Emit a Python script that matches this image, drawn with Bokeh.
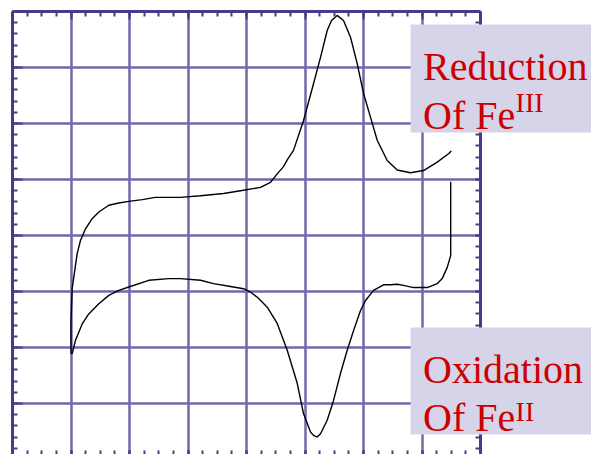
from bokeh.plotting import figure
from bokeh.models import (LinearAxis, SingleIntervalTicker, BoxAnnotation, Label,
                          Range1d, Grid)
from bokeh.embed import file_html
from bokeh.resources import INLINE

# ---- data (grid units: x 0..8, y 0..8) ----
# forward (upper) branch of the voltammogram
fwd_x = [1.0, 1.0, 1.02, 1.065, 1.106, 1.162, 1.248, 1.362, 1.475, 1.646, 1.817,
         1.988, 2.217, 2.444, 2.872, 3.214, 3.607, 3.897, 4.239, 4.41, 4.525,
         4.632, 4.701, 4.803, 4.974, 5.145, 5.265, 5.379, 5.453, 5.55, 5.658,
         5.778, 5.892, 6.0, 6.12, 6.234, 6.405, 6.576, 6.803, 7.026, 7.26,
         7.453, 7.5]
fwd_y = [1.89, 2.48, 3.05, 3.38, 3.68, 3.91, 4.12, 4.30, 4.42, 4.54, 4.58,
         4.61, 4.64, 4.68, 4.68, 4.71, 4.75, 4.80, 4.86, 4.95, 5.10,
         5.23, 5.36, 5.52, 6.05, 6.71, 7.18, 7.66, 7.84, 7.93, 7.84,
         7.54, 7.07, 6.54, 6.11, 5.70, 5.34, 5.17, 5.12, 5.16, 5.31,
         5.46, 5.51]
# reverse (lower) branch
rev_x = [7.49, 7.49, 7.431, 7.345, 7.26, 7.089, 6.855, 6.684, 6.576, 6.462,
         6.342, 6.171, 6.034, 5.949, 5.829, 5.721, 5.607, 5.487, 5.379, 5.265,
         5.209, 5.145, 5.094, 4.974, 4.867, 4.696, 4.525, 4.354, 4.205, 4.068,
         3.949, 3.726, 3.436, 3.214, 2.872, 2.672, 2.33, 1.988, 1.817, 1.646,
         1.475, 1.304, 1.191, 1.077, 1.02, 1.0]
rev_y = [4.96, 3.64, 3.43, 3.23, 3.14, 3.07, 3.07, 3.11, 3.13, 3.12,
         3.12, 3.02, 2.84, 2.66, 2.30, 1.95, 1.54, 1.05, 0.70, 0.46,
         0.40, 0.43, 0.49, 0.82, 1.36, 1.95, 2.43, 2.72, 2.88, 2.99,
         3.05, 3.09, 3.14, 3.20, 3.23, 3.23, 3.20, 3.08, 3.02, 2.93,
         2.78, 2.60, 2.42, 2.13, 1.89, 1.89]

label_top = ["Reduction", "Of Fe", "III"]
label_bottom = ["Oxidation", "Of Fe", "II"]

FRAME = "#4a3a8a"
GRID = "#7565aa"
RED = "#cc0000"
BOX = "#d6d4e9"
FONT = "Liberation Serif"
XMAX = 8

p = figure(width=591, height=454, x_range=Range1d(0, 9.897), y_range=Range1d(0.089, 8),
           output_backend="svg", toolbar_location=None,
           min_border_left=12, min_border_top=11, min_border_right=0,
           min_border_bottom=0, x_axis_location=None, y_axis_location=None)
p.outline_line_color = None
p.background_fill_color = "white"
p.border_fill_color = "white"
# drop any default grids
p.center = [r for r in p.center if not isinstance(r, Grid)]

xt = SingleIntervalTicker(interval=1, num_minor_ticks=4)
yt = SingleIntervalTicker(interval=1, num_minor_ticks=5)

p.add_layout(Grid(dimension=0, ticker=xt, bounds=(0, XMAX),
                  grid_line_color=GRID, grid_line_width=2.5))
p.add_layout(Grid(dimension=1, ticker=yt, cross_bounds=(0, XMAX),
                  grid_line_color=GRID, grid_line_width=2.5))


def make_axis(ticker, major_in, minor_in, line_color, **kw):
    return LinearAxis(ticker=ticker, major_tick_in=major_in, major_tick_out=0,
                      minor_tick_in=minor_in, minor_tick_out=0,
                      major_label_text_font_size="0px", major_label_standoff=0,
                      major_label_overrides={i: "" for i in range(-1, 11)},
                      axis_line_color=line_color, axis_line_width=3,
                      major_tick_line_color=FRAME, minor_tick_line_color=FRAME,
                      major_tick_line_width=2, minor_tick_line_width=2, **kw)


p.add_layout(make_axis(yt, 10, 5, FRAME), "left")
p.add_layout(make_axis(yt, 5, 5, FRAME, fixed_location=XMAX), "right")
p.add_layout(make_axis(xt, 8, 5, FRAME, bounds=(0, XMAX)), "above")
p.add_layout(make_axis(xt, 4, 4, None, bounds=(0, XMAX)), "below")

p.line(fwd_x, fwd_y, line_color="black", line_width=1.4)
p.line(rev_x, rev_y, line_color="black", line_width=1.4)

# label boxes
p.add_layout(BoxAnnotation(left=6.803, right=10.5, top=7.768, bottom=5.839,
                           fill_color=BOX, fill_alpha=1, line_color=None))
p.add_layout(BoxAnnotation(left=6.803, right=10.5, top=2.357, bottom=0.446,
                           fill_color=BOX, fill_alpha=1, line_color=None))


def lab(x, y, t, size):
    p.add_layout(Label(x=x, y=y, text=t, text_font=FONT, text_font_size=size,
                       text_color=RED, text_baseline="alphabetic", text_align="left"))


lab(7.017, 7.018, label_top[0], "40px")
lab(7.017, 6.143, label_top[1], "40px")
lab(8.60, 6.375, label_top[2], "28px")
lab(7.017, 1.602, label_bottom[0], "40px")
lab(7.017, 0.755, label_bottom[1], "40px")
lab(8.60, 0.86, label_bottom[2], "28px")

open("out.html", "w").write(file_html(p, INLINE))
